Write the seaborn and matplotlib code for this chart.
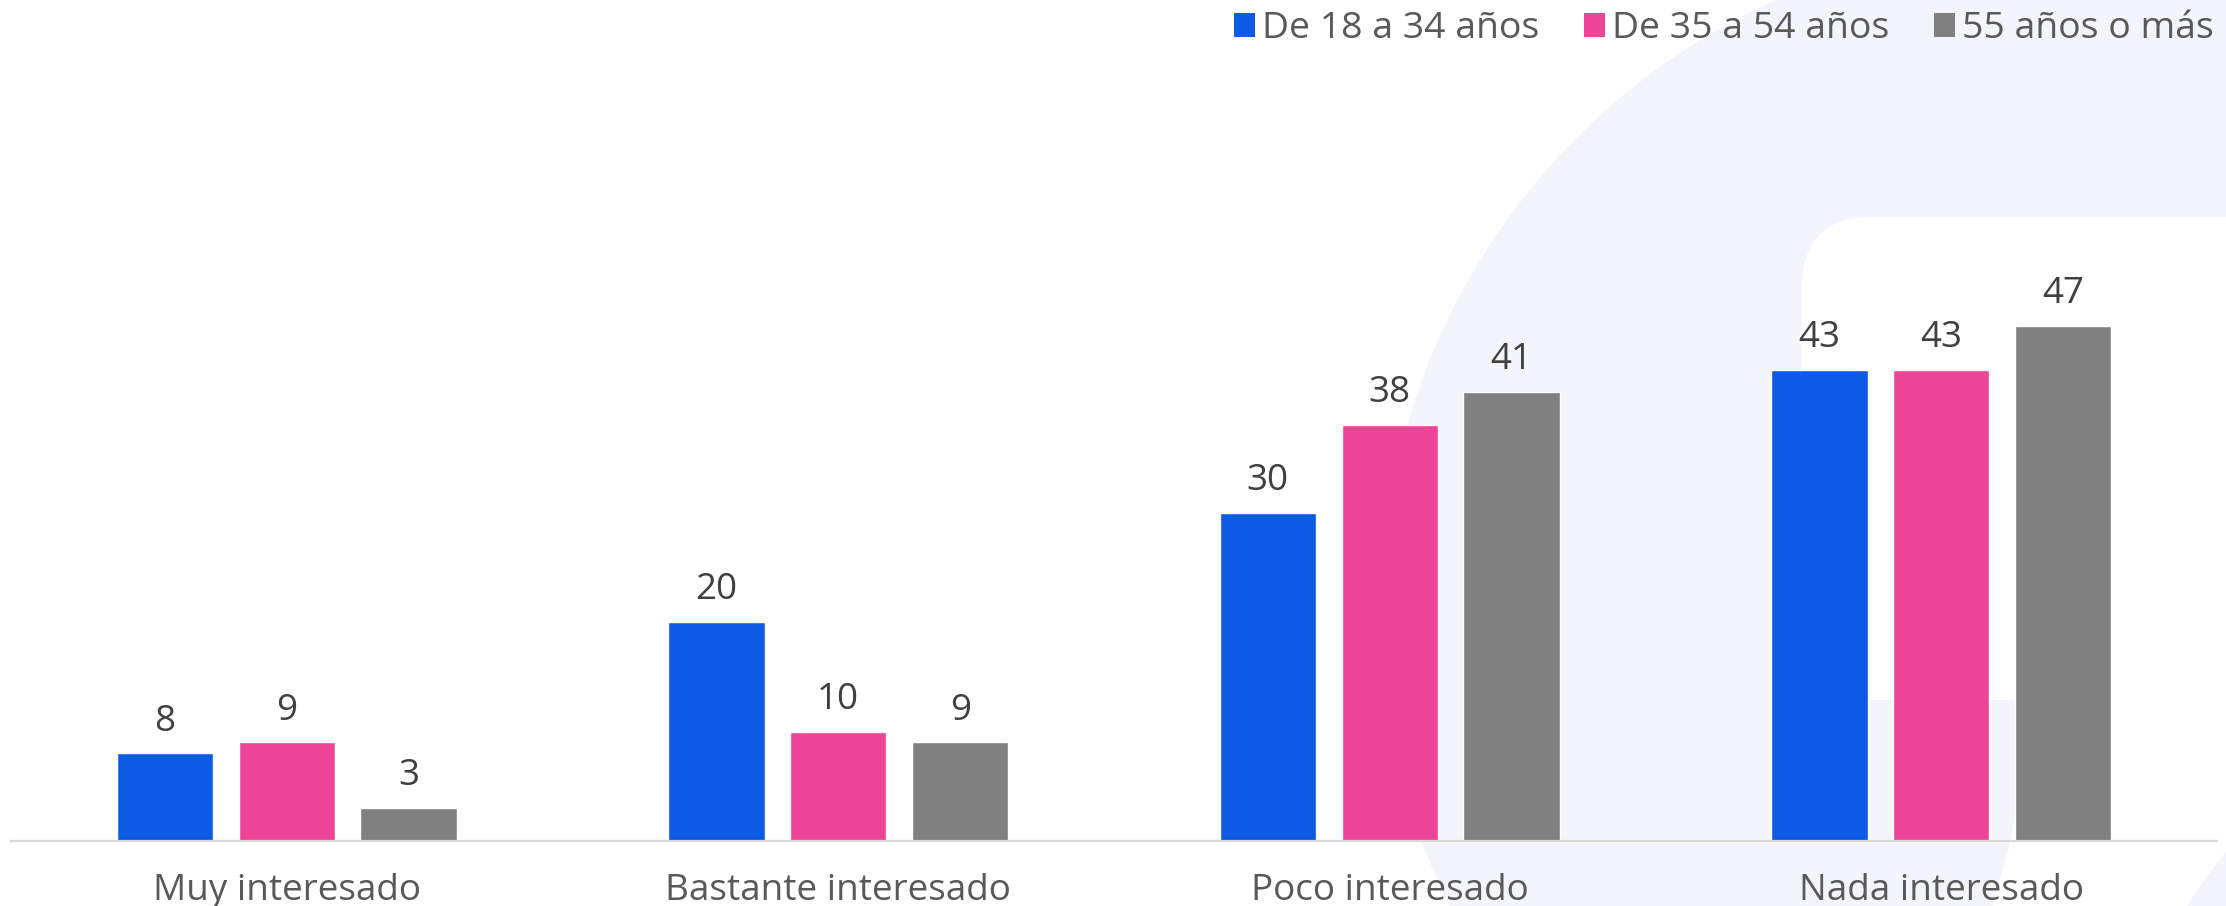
import matplotlib
matplotlib.use("Agg")
import matplotlib.pyplot as plt
from matplotlib.patches import Circle, FancyBboxPatch, Polygon, Patch
import pandas as pd
import seaborn as sns

# Survey data: level of interest by age group (%)
categories = ["Muy interesado", "Bastante interesado", "Poco interesado", "Nada interesado"]
age_groups = ["De 18 a 34 años", "De 35 a 54 años", "55 años o más"]
young = [8, 20, 30, 43]
middle = [9, 10, 38, 43]
senior = [3, 9, 41, 47]
colors = ["#0F5AE5", "#EE4498", "#808080"]

rows = []
for group, values in zip(age_groups, [young, middle, senior]):
    for cat, v in zip(categories, values):
        rows.append({"categoria": cat, "edad": group, "valor": v})
df = pd.DataFrame(rows)

sns.set_theme(style="white")
plt.rcParams["font.family"] = ["Open Sans", "DejaVu Sans"]

W, H = 2226, 906
fig = plt.figure(figsize=(W / 100, H / 100), dpi=100)
fig.patch.set_facecolor("white")

# Soft background emblem, drawn in pixel space
bg = fig.add_axes([0, 0, 1, 1], zorder=-5)
bg.set_xlim(0, W)
bg.set_ylim(H, 0)
bg.axis("off")
lav = "#F4F5FC"
bg.add_patch(Circle((2051, 611), 670, facecolor=lav, edgecolor="none"))
bg.add_patch(FancyBboxPatch((1872, 287), 600, 343,
                            boxstyle="round,pad=70", facecolor="white", edgecolor="none"))
bg.add_patch(Polygon([(2035, 700), (2010, 843), (1993, 906), (2187, 906),
                      (2203, 882), (2217, 863), (2226, 852), (2226, 700)],
                     closed=True, facecolor="white", edgecolor="none"))

# Main bar chart
ax = fig.add_axes([11 / W, (H - 841) / H, 2206 / W, 791 / H])
ax.set_facecolor("none")
sns.barplot(data=df, x="categoria", y="valor", hue="edad",
            order=categories, hue_order=age_groups, palette=colors,
            width=0.663, gap=0.21, saturation=1, errorbar=None,
            legend=False, ax=ax)

ax.set_xlim(-0.5, 3.5)
ax.set_ylim(0, 791 / 10.95)

for cont in ax.containers:
    ax.bar_label(cont, fmt="%d", padding=10, fontsize=26.5, color="#404040")

for s in ["top", "left", "right"]:
    ax.spines[s].set_visible(False)
ax.spines["bottom"].set_color("#D9D9D9")
ax.spines["bottom"].set_linewidth(1.6)
ax.set_yticks([])
ax.set_xlabel("")
ax.set_ylabel("")
ax.tick_params(axis="x", length=0, pad=23, labelsize=26.6, labelcolor="#595959")

handles = [Patch(facecolor=c, edgecolor="none") for c in colors]
fig.legend(handles, age_groups, loc="upper right",
           bbox_to_anchor=(2214 / W, 1 - 11 / H), ncol=3, frameon=False,
           fontsize=26.9, labelcolor="#595959",
           handlelength=0.55, handleheight=0.6, handletextpad=0.2,
           columnspacing=1.2, borderpad=0, borderaxespad=0)

fig.savefig("out.png", dpi=100, facecolor="white")
